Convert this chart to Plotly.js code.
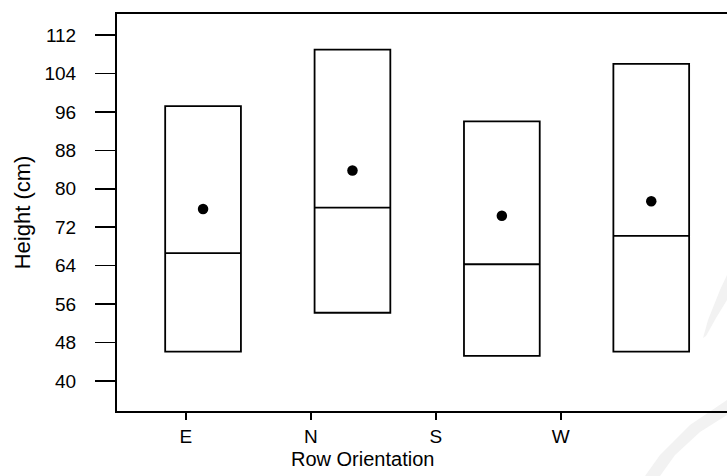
<!DOCTYPE html>
<html>
<head>
<meta charset="utf-8">
<script src="https://cdn.plot.ly/plotly-3.0.1.min.js"></script>
<style>
html,body{margin:0;padding:0;background:#fff;overflow:hidden;}
#chart{width:727px;height:476px;}
</style>
</head>
<body>
<div id="chart"></div>
<script>
// Data
const categories = ['E', 'N', 'S', 'W'];
const boxBottom = [46.1, 54.2, 45.2, 46.1];
const boxMedian = [66.6, 76.1, 64.3, 70.2];
const boxTop    = [97.2, 109.0, 94.05, 106.0];
const means     = [75.8, 83.8, 74.4, 77.4];
const yTickVals = [40, 48, 56, 64, 72, 80, 88, 96, 104, 112];

const FONT = 'Liberation Sans, Arial, Helvetica, sans-serif';

const traces = [
  {
    // anchor trace so the main x/y subplot (ticks E..W, frame) is drawn
    type: 'scatter',
    mode: 'markers',
    x: [],
    y: [],
    xaxis: 'x',
    yaxis: 'y',
    hoverinfo: 'skip',
    showlegend: false
  },
  {
    type: 'box',
    x: categories,
    q1: boxBottom,
    median: boxMedian,
    q3: boxTop,
    lowerfence: boxBottom,
    upperfence: boxTop,
    width: 0.507,
    whiskerwidth: 0,
    boxpoints: false,
    fillcolor: 'rgba(0,0,0,0)',
    line: {color: '#000', width: 1.8},
    xaxis: 'x2',
    yaxis: 'y',
    hoverinfo: 'skip',
    showlegend: false
  },
  {
    type: 'scatter',
    mode: 'markers',
    x: categories,
    y: means,
    marker: {color: '#000', size: 10.5},
    xaxis: 'x2',
    yaxis: 'y',
    hoverinfo: 'skip',
    showlegend: false
  }
];

const layout = {
  width: 727,
  height: 476,
  margin: {l: 117, r: 0, t: 14, b: 65},
  paper_bgcolor: '#fff',
  plot_bgcolor: 'rgba(0,0,0,0)',
  font: {family: FONT, color: '#000', size: 18},
  showlegend: false,
  xaxis: {
    range: [-0.55, 4.33],
    tickmode: 'array',
    tickvals: categories.map((c, i) => i),
    ticktext: categories,
    ticks: 'outside',
    ticklen: 7,
    tickwidth: 1.5,
    tickcolor: '#000',
    showline: true,
    mirror: true,
    linecolor: '#000',
    linewidth: 2,
    showgrid: false,
    zeroline: false,
    tickfont: {family: FONT, size: 19, color: '#000'},
    fixedrange: true
  },
  xaxis2: {
    type: 'category',
    categoryorder: 'array',
    categoryarray: categories,
    overlaying: 'x',
    anchor: 'y',
    range: [-0.576, 3.507],
    visible: false,
    fixedrange: true
  },
  yaxis: {
    range: [33.74, 116.4],
    tickmode: 'array',
    tickvals: yTickVals,
    ticktext: yTickVals.map(String),
    ticks: 'outside',
    ticklen: 20,
    tickwidth: 1.5,
    tickcolor: '#000',
    ticklabelstandoff: 15,
    showline: true,
    mirror: false,
    linecolor: '#000',
    linewidth: 2,
    showgrid: false,
    zeroline: false,
    tickfont: {family: FONT, size: 19, color: '#000'},
    title: {text: 'Height (cm)', font: {family: FONT, size: 22, color: '#000'}, standoff: 8},
    fixedrange: true
  },
  shapes: [
    // faint background watermark swoosh
    {
      type: 'path', xref: 'paper', yref: 'paper', layer: 'below',
      path: 'M 1.0 0.3426 L 0.9885 0.3048 L 0.9689 0.2292 L 0.9607 0.1839 L 0.9656 0.1889 L 0.9820 0.2343 L 1.0 0.2796 Z',
      fillcolor: '#f2f2f2', line: {width: 0}
    },
    {
      type: 'path', xref: 'paper', yref: 'paper', layer: 'below',
      path: 'M 1.0 0.0277 L 0.9393 -0.0353 L 0.8902 -0.1108 L 0.8656 -0.1637 L 0.8902 -0.1637 L 0.9148 -0.1108 L 0.9557 -0.0529 L 1.0 -0.0101 Z',
      fillcolor: '#f2f2f2', line: {width: 0}
    }
  ],
  annotations: [
    {
      text: 'Row Orientation',
      xref: 'paper', yref: 'paper',
      x: (362 - 117) / 610, y: (476 - 65 - 459) / 397,
      xanchor: 'center', yanchor: 'middle',
      showarrow: false,
      font: {family: FONT, size: 20, color: '#000'}
    }
  ]
};

Plotly.newPlot('chart', traces, layout, {staticPlot: true, displayModeBar: false});
</script>
</body>
</html>
